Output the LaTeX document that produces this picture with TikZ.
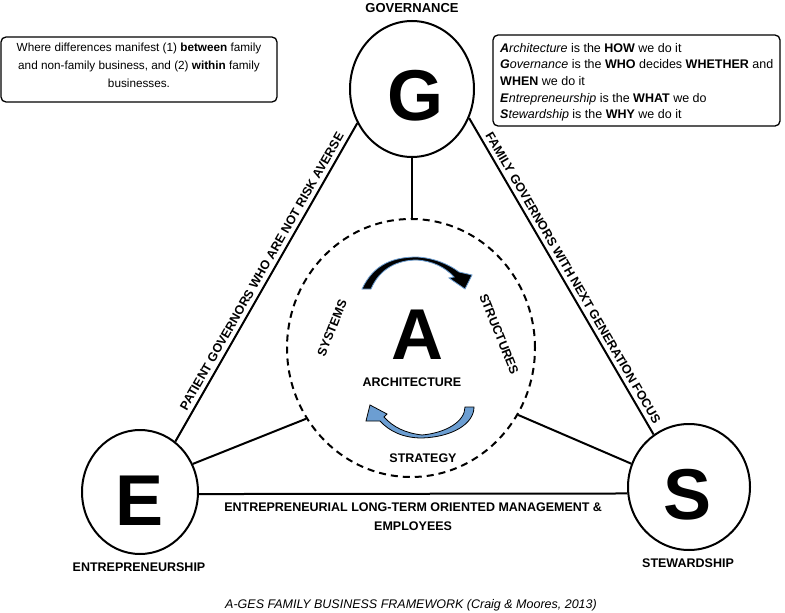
\documentclass[tikz,border=0pt]{standalone}
\usepackage{fontspec}
\setmainfont{Liberation Sans}
\usetikzlibrary{shapes.geometric}
\definecolor{arrowblue}{RGB}{108,158,210}
\tikzset{
  ring/.style={ellipse, draw, line width=2pt, inner sep=0pt},
  bigletter/.style={font=\fontsize{72}{72}\selectfont\bfseries, inner sep=0pt},
  lab/.style={font=\fontsize{12.5}{19}\selectfont\bfseries, inner sep=1pt},
  link/.style={line width=2pt},
  infobox/.style={draw, line width=1.3pt, rounded corners=5pt, inner sep=0pt},
  boxtext/.style={inner sep=0pt},
}
\begin{document}
\begin{tikzpicture}[x=1pt, y=-1pt]
\useasboundingbox (0,0) rectangle (785,613);

% circles
\node[ring, minimum width=124pt, minimum height=136pt] (G) at (412,89) {};
\node[ring, minimum width=116pt, minimum height=124pt] (E) at (140,492) {};
\node[ring, minimum width=122pt, minimum height=126pt] (S) at (689,487) {};
\node[ellipse, draw, line width=2pt, dash pattern=on 7pt off 5pt, inner sep=0pt,
      minimum width=248pt, minimum height=258pt] (D) at (411,348) {};

% big letters
\node[bigletter] (Gl) at (415,96) {G};
\node[bigletter] (El) at (140,501) {E};
\node[bigletter] (Sl) at (688,495) {S};
\node[bigletter] (Al) at (417,335) {A};

% triangle edges
\draw[link] (G.212) -- node[lab, sloped, pos=0.48, above=3pt] {PATIENT GOVERNORS WHO ARE NOT RISK AVERSE} (E.55);
\draw[link] (G.333) -- node[lab, sloped, pos=0.52, above=3pt] {FAMILY GOVERNORS WITH NEXT GENERATION FOCUS} (S.124);
\draw[link] (E.-2) -- node[lab, below=7pt, align=center] {ENTREPRENEURIAL LONG-TERM ORIENTED MANAGEMENT \&\\EMPLOYEES} (S.186.5);

% spokes to architecture
\draw[link] (G.south) -- (G.south |- D.north);
\draw[link] (E.28) -- (D.214);
\draw[link] (S.158) -- (D.-32);

% labels
\node[lab, font=\fontsize{13}{15}\selectfont\bfseries] (gov) at (412,8.5) {GOVERNANCE};
\node[lab] (ent) at (139,567.5) {ENTREPRENEURSHIP};
\node[lab] (ste) at (688,563) {STEWARDSHIP};
\node[lab] (arc) at (412,382) {ARCHITECTURE};
\node[lab] (str) at (423,458) {STRATEGY};
\node[lab, rotate=68] (sys) at (332,328) {SYSTEMS};
\node[lab, rotate=-68] (stu) at (499,334) {STRUCTURES};

% curved arrows
\filldraw[fill=black, draw=arrowblue, line width=0.8pt]
  (362,289) .. controls (374,263) and (395,257) .. (417,257)
  .. controls (435,258) and (450,265) .. (459,272)
  -- (472,275) -- (465,289) -- (449,278) -- (454,277)
  .. controls (445,267) and (432,261) .. (417,260)
  .. controls (398,260) and (380,268) .. (371,289) -- cycle;
\filldraw[fill=arrowblue, draw=black, line width=0.8pt]
  (465,407) -- (474,407)
  .. controls (474,424) and (452,437) .. (422,438)
  .. controls (403,438) and (389,431) .. (380,421)
  -- (366,421) -- (370,405) -- (387,414) -- (384,417)
  .. controls (393,427) and (405,433) .. (422,435)
  .. controls (445,433) and (465,422) .. (465,407) -- cycle;

% info boxes
\node[infobox, minimum width=276pt, minimum height=65pt] (lbox) at (139,69.5) {};
\node[boxtext, align=center, font=\fontsize{11.75}{18}\selectfont] (ltext) at (139,65.6)
  {Where differences manifest (1) \textbf{between} family\\
   and non-family business, and (2) \textbf{within} family\\
   businesses.};
\node[infobox, minimum width=287pt, minimum height=91pt] (rbox) at (636.5,80.5) {};
\node[boxtext, align=left, anchor=north west, font=\fontsize{12.5}{16.67}\selectfont] (rtext) at (500,43)
  {\textbf{\textit{A}}\textit{rchitecture} is the \textbf{HOW} we do it\\
   \textbf{\textit{G}}\textit{overnance} is the \textbf{WHO} decides \textbf{WHETHER} and\\
   \textbf{WHEN} we do it\\
   \textbf{\textit{E}}\textit{ntrepreneurship} is the \textbf{WHAT} we do\\
   \textbf{\textit{S}}\textit{tewardship} is the \textbf{WHY} we do it};

% caption
\node[font=\fontsize{12.5}{15}\selectfont\itshape, inner sep=0pt] (cap) at (411,605)
  {A-GES FAMILY BUSINESS FRAMEWORK (Craig \& Moores, 2013)};
\end{tikzpicture}
\end{document}
